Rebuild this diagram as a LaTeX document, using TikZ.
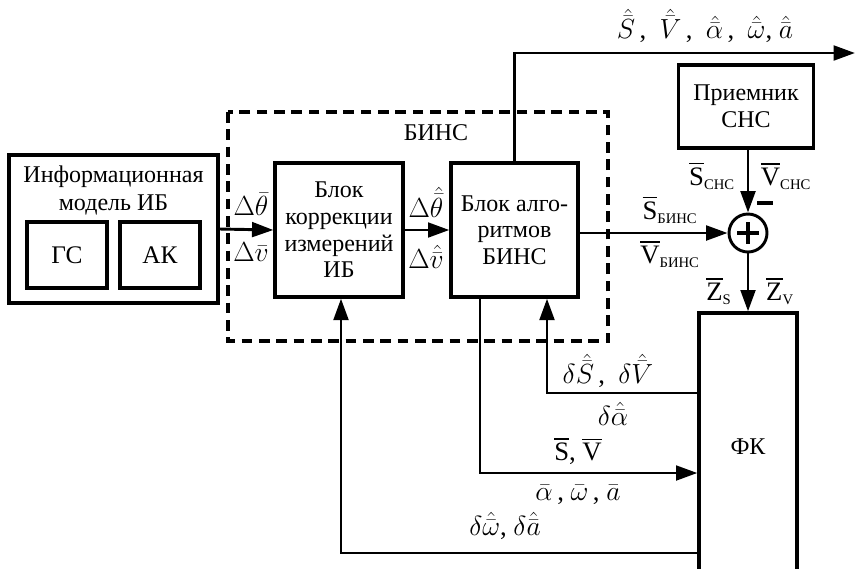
\documentclass[tikz,border=0pt]{standalone}
\usepackage{amsmath}
\usepackage{fontspec}
\setmainfont{Liberation Serif}
\usetikzlibrary{arrows.meta,calc}
\newcommand{\subtxt}[1]{\text{\fontsize{11}{11}\selectfont #1}}
\tikzset{
  blk/.style={draw, line width=2.5pt, inner sep=0pt, align=center, font=\fontsize{18}{20}\selectfont},
  arr/.style={line width=2.2pt, -{Triangle[length=16pt,width=11pt]}},
  lbl/.style={inner sep=0pt, font=\fontsize{20}{22}\selectfont},
  dashbox/.style={line width=2.5pt, dash pattern=on 8pt off 5pt}
}
\begin{document}
\begin{tikzpicture}[x=0.75pt,y=-0.75pt]
\clip (0,0) rectangle (855,568);
\fill[white] (0,0) rectangle (855,568);

% dashed BINS box
\draw[dashbox] (228,112) rectangle (608,341);
\node[inner sep=0pt, font=\fontsize{18}{20}\selectfont] (binslbl) at (436,133) {БИНС};

% blocks
\node[blk, minimum width=156.75pt, minimum height=111pt] (info) at (113.5,229) {};
\node[inner sep=0pt, align=center, font=\fontsize{18}{21}\selectfont] (infotxt) at (113.5,190) {Информационная\\модель ИБ};
\node[blk, font=\fontsize{19}{20}\selectfont, minimum width=60pt, minimum height=49.5pt] (gs) at (67,255) {ГС};
\node[blk, font=\fontsize{19}{20}\selectfont, minimum width=60pt, minimum height=49.5pt] (ak) at (160,255) {АК};
\node[blk, minimum width=96pt, minimum height=100.5pt] (korr) at (339,230) {Блок\\коррекции\\измерений\\ИБ};
\node[blk, minimum width=95.25pt, minimum height=100.5pt] (alg) at (514.5,230) {Блок алго-\\ритмов\\БИНС};
\node[blk, minimum width=101.25pt, minimum height=62.25pt] (rec) at (746,106.5) {Приемник\\СНС};
\node[draw, circle, line width=2.2pt, minimum size=28.5pt, inner sep=0pt] (sum) at (748,233) {};
\draw[line width=2.6pt] ($(sum.center)+(-11,0)$) -- ($(sum.center)+(11,0)$);
\draw[line width=2.6pt] ($(sum.center)+(0,-11)$) -- ($(sum.center)+(0,11)$);
\node[blk, minimum width=73.5pt, minimum height=200.25pt] (fk) at (748,446.5) {ФК};
\node[fill, inner sep=0pt, minimum width=12pt, minimum height=3pt] (minus) at (765,203) {};

% connectors
\coordinate (outend) at (855,53);
\coordinate (fbsv) at (547,393);
\coordinate (tap) at (480,473);
\coordinate (fbwa) at (341,553);

\draw[arr] (info.east) -- (korr.west);
\draw[arr] (korr.east) -- (alg.west);
\draw[arr] (alg.east |- sum.west) -- (sum.west);
\draw[arr] (sum.north |- rec.south) -- (sum.north);
\draw[arr] (sum.south) -- (fk.north);
\draw[arr] (alg.north) -- (alg.north |- outend) -- (outend);
\draw[arr] (fbsv -| fk.west) -- (fbsv) -- (fbsv |- alg.south);
\draw[arr] (tap |- alg.south) -- (tap) -- (tap -| fk.west);
\draw[arr] (fbwa -| fk.west) -- (fbwa) -- (fbwa |- korr.south);

% labels
\node[lbl] (lout) at (705,26) {$\hat{\bar{S}}$\,,\ \ $\hat{\bar{V}}$\,,\ \ $\hat{\bar{\alpha}}$\,,\ \ $\hat{\bar{\omega}}$, $\hat{\bar{a}}$};
\node[lbl] (ldth) at (251,204) {$\Delta\bar{\theta}$};
\node[lbl] (ldv) at (251,252) {$\Delta\bar{v}$};
\node[lbl] (ldthh) at (426,202) {$\Delta\hat{\bar{\theta}}$};
\node[lbl] (ldvh) at (426,257) {$\Delta\hat{\bar{v}}$};
\node[lbl] (lsb) at (670,210) {$\overline{\text{S}}_{\subtxt{БИНС}}$};
\node[lbl] (lvb) at (670,254) {$\overline{\text{V}}_{\subtxt{БИНС}}$};
\node[lbl] (lss) at (712,176) {$\overline{\text{S}}_{\subtxt{СНС}}$};
\node[lbl] (lvs) at (786,176) {$\overline{\text{V}}_{\subtxt{СНС}}$};
\node[lbl] (lzs) at (719,291) {$\overline{\text{Z}}_{\subtxt{S}}$};
\node[lbl] (lzv) at (780,291) {$\overline{\text{Z}}_{\subtxt{V}}$};
\node[lbl] (ldsv) at (608,371) {$\delta\hat{\bar{S}}$\,,\ \ $\delta\hat{\bar{V}}$};
\node[lbl] (lda) at (613,414) {$\delta\hat{\bar{\alpha}}$};
\node[lbl] (lsv) at (578,451) {$\overline{\text{S}}$, $\overline{\text{V}}$};
\node[lbl] (lawa) at (578,495) {$\bar{\alpha}$\,, $\bar{\omega}$\,, $\bar{a}$};
\node[lbl] (ldwa) at (505,526) {$\delta\hat{\bar{\omega}}$, $\delta\hat{\bar{a}}$};
\end{tikzpicture}
\end{document}
